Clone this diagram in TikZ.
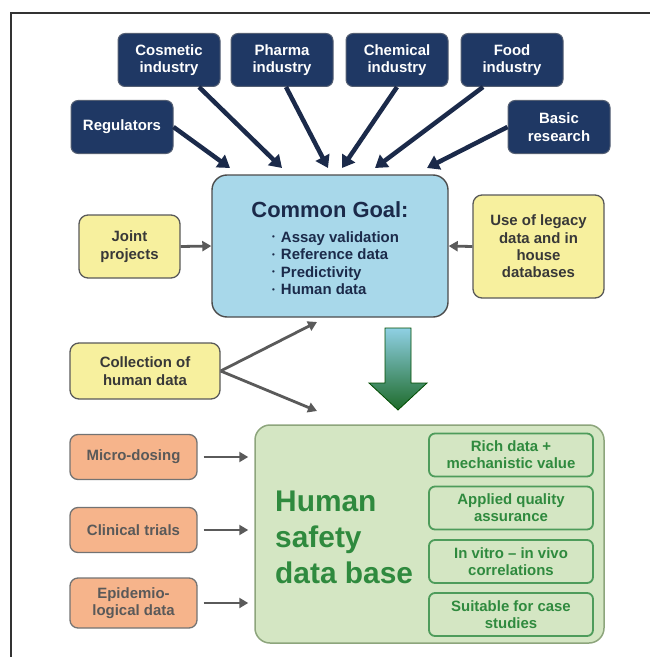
\documentclass[tikz,border=0pt]{standalone}
\usepackage{fontspec}
\setmainfont{Liberation Sans}
\usetikzlibrary{arrows.meta}

\definecolor{navy}{HTML}{1F3864}
\definecolor{navyink}{HTML}{1B2A4A}
\definecolor{goalblue}{HTML}{A8D8EA}
\definecolor{paleyellow}{HTML}{F7F09E}
\definecolor{peach}{HTML}{F6B48B}
\definecolor{palegreen}{HTML}{D4E6C3}
\definecolor{greenline}{HTML}{8DA57C}
\definecolor{darkgreen}{HTML}{2F8A3E}
\definecolor{arrowgray}{HTML}{5A5A5A}
\definecolor{arrowtop}{HTML}{8FD0E4}
\definecolor{arrowmid}{HTML}{3F9650}
\definecolor{arrowbot}{HTML}{1E6B2A}

\tikzset{
    sector/.style={draw=gray!55!navy, fill=navy, text=white, line width=1bp,
        rounded corners=7bp, minimum width=102bp, minimum height=53bp,
        align=center, font=\bfseries\fontsize{15}{17.5}\selectfont},
    yellowbox/.style={draw=black!65, fill=paleyellow, text=black!78, line width=1.3bp,
        rounded corners=9bp, align=center, font=\bfseries\fontsize{15}{17.5}\selectfont},
    peachbox/.style={draw=black!55, fill=peach, text=black!65, line width=1.3bp,
        rounded corners=8bp, minimum width=127bp, minimum height=45bp,
        align=center, font=\bfseries\fontsize{15}{17.5}\selectfont},
    featbox/.style={draw=darkgreen!85, fill=palegreen, text=darkgreen, line width=1.8bp,
        rounded corners=6bp, minimum width=164bp, minimum height=43bp,
        align=center, font=\bfseries\fontsize{15}{17}\selectfont},
    navyarrow/.style={draw=navyink, line width=4.5bp, -{Triangle[length=12bp,width=15bp]}},
    grayarrow/.style={draw=arrowgray, line width=2.8bp, -{Triangle[length=9bp,width=10bp]}}
}

\newcommand{\gbul}{\raisebox{.3ex}{\fontsize{8}{8}\selectfont\textbullet}\hspace{6bp}}

\begin{document}
\begin{tikzpicture}[x=1bp, y=-1bp]
    \useasboundingbox (0,0) rectangle (650,657);

    % Frame
    \draw[line width=1.2bp, black!80] (650,13) -- (11,13) -- (11,657);

    % Stakeholders
    \node[sector] (cosmetic) at (169,60) {Cosmetic\\industry};
    \node[sector] (pharma) at (282,60) {Pharma\\industry};
    \node[sector] (chemical) at (397,60) {Chemical\\industry};
    \node[sector] (food) at (512,60) {Food\\industry};
    \node[sector] (regulators) at (122,127) {Regulators};
    \node[sector] (basic) at (559,127) {Basic\\research};

    % Common goal
    \node[draw=black!70, fill=goalblue, line width=1.4bp, rounded corners=15bp,
        minimum width=236bp, minimum height=142bp] (goal) at (330,246) {};
    \node[text=navyink, font=\bfseries\fontsize{22}{24}\selectfont] (goaltitle) at (330,210) {Common Goal:};
    \node[text=navyink, anchor=north west, align=left, inner sep=0pt,
        font=\bfseries\fontsize{15}{17.7}\selectfont] (goallist) at (272,231)
        {\gbul Assay validation\\ \gbul Reference data\\ \gbul Predictivity\\ \gbul Human data};

    % Arrow ends on top of the goal box
    \coordinate (in1) at (230,168);
    \coordinate (in2) at (282,168);
    \coordinate (in3) at (328,168);
    \coordinate (in4) at (342,168);
    \coordinate (in5) at (375,168);
    \coordinate (in6) at (427,168);

    \draw[navyarrow] (regulators.east) -- (in1);
    \draw[navyarrow] ([xshift=30bp]cosmetic.south) -- (in2);
    \draw[navyarrow] ([xshift=4bp]pharma.south) -- (in3);
    \draw[navyarrow] (chemical.south) -- (in4);
    \draw[navyarrow] ([xshift=-29bp]food.south) -- (in5);
    \draw[navyarrow] (basic.west) -- (in6);

    % Side inputs
    \node[yellowbox, minimum width=101bp, minimum height=63bp] (joint) at (129.5,246.5) {Joint\\projects};
    \node[yellowbox, minimum width=131bp, minimum height=103bp] (legacy) at (538.5,246.5)
        {Use of legacy\\data and in\\house\\databases};
    \node[yellowbox, minimum width=150bp, minimum height=56bp] (collection) at (145,371)
        {Collection of\\human data};

    \draw[grayarrow] (joint.east) -- (goal.west);
    \draw[grayarrow] (legacy.west) -- (goal.east);

    \coordinate (up) at (317,322);
    \coordinate (down) at (317,411);
    \draw[grayarrow] (collection.east) -- (up);
    \draw[grayarrow] (collection.east) -- (down);

    % Big arrow
    \shade[top color=arrowtop, middle color=arrowmid, bottom color=arrowbot,
        draw=green!30!black, line width=0.8bp]
        (385,328) -- (411,328) -- (411,383) -- (427,383) -- (398,410)
        -- (369,383) -- (385,383) -- cycle;

    % Human safety data base
    \node[draw=greenline, fill=palegreen, line width=1.5bp, rounded corners=15bp,
        minimum width=349bp, minimum height=218bp] (human) at (429.5,534) {};
    \node[text=darkgreen, anchor=west, align=left, inner sep=0pt,
        font=\bfseries\fontsize{30}{36}\selectfont] (humantitle) at (275,537)
        {Human\\safety\\data base};

    \node[featbox] (rich) at (511,455) {Rich data +\\mechanistic value};
    \node[featbox] (quality) at (511,508) {Applied quality\\assurance};
    \node[featbox] (vitro) at (511,561.5) {In vitro -- in vivo\\correlations};
    \node[featbox] (suitable) at (511,614.5) {Suitable for case\\studies};

    % Data sources
    \node[peachbox] (micro) at (133.5,457) {Micro-dosing};
    \node[peachbox] (clinical) at (133.5,530) {Clinical trials};
    \node[peachbox, minimum height=50bp] (epidemio) at (133.5,603) {Epidemio-\\logical data};

    \foreach \src in {micro, clinical, epidemio}
        \draw[grayarrow, shorten <=6bp, shorten >=6bp] (\src.east) -- (\src.east -| human.west);
\end{tikzpicture}
\end{document}
